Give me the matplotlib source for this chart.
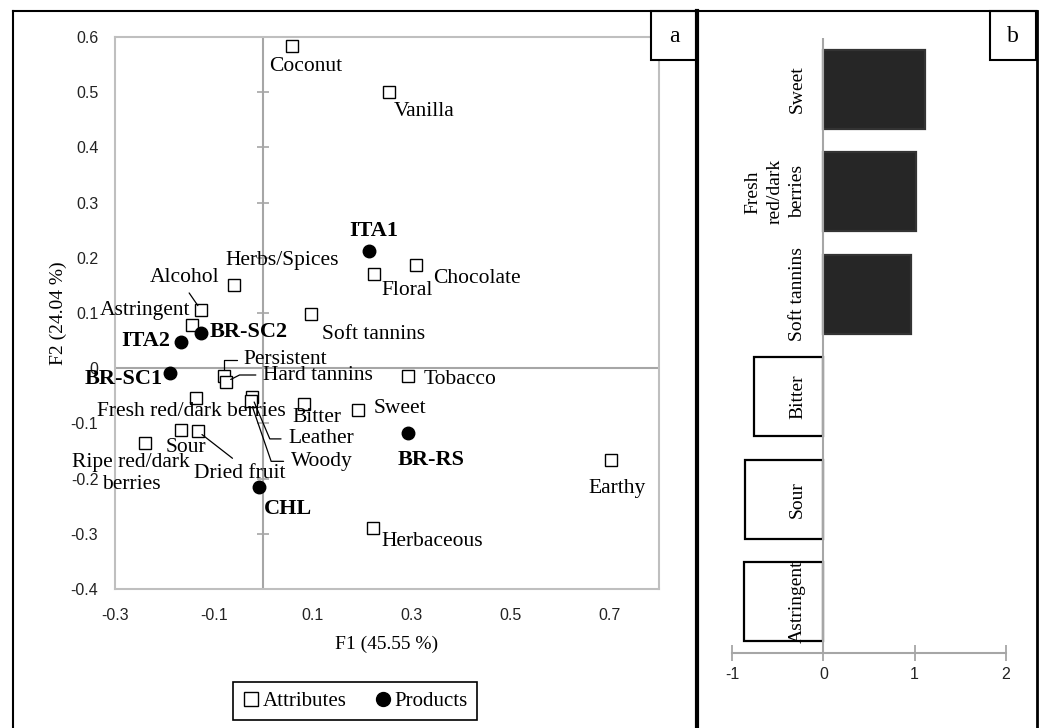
import numpy as np
import matplotlib
matplotlib.use("Agg")
import matplotlib.pyplot as plt
from matplotlib.lines import Line2D
from matplotlib.patches import Rectangle

plt.rcParams["axes.unicode_minus"] = False

# ---- data ----
attr_names = ["Coconut", "Vanilla", "Chocolate", "Floral", "Herbs/Spices", "Astringent",
              "Alcohol", "Soft tannins", "Persistent", "Hard tannins", "Tobacco",
              "Fresh red/dark berries", "Leather", "Woody", "Bitter", "Sweet", "Sour",
              "Dried fruit", "Ripe red/dark\nberries", "Herbaceous", "Earthy"]
attr_f1 = [0.058, 0.254, 0.309, 0.224, -0.059, -0.144, -0.126, 0.097, -0.080, -0.076, 0.292,
           -0.136, -0.023, -0.026, 0.083, 0.192, -0.167, -0.133, -0.239, 0.222, 0.703]
attr_f2 = [0.583, 0.501, 0.187, 0.171, 0.151, 0.078, 0.105, 0.099, -0.014, -0.025, -0.015,
           -0.054, -0.052, -0.060, -0.065, -0.076, -0.112, -0.114, -0.136, -0.289, -0.167]

prod_names = ["ITA1", "BR-SC2", "ITA2", "BR-SC1", "BR-RS", "CHL"]
prod_f1 = [0.214, -0.127, -0.167, -0.189, 0.292, -0.008]
prod_f2 = [0.212, 0.064, 0.047, -0.008, -0.118, -0.216]

xticks = [-0.3, -0.1, 0.1, 0.3, 0.5, 0.7]
xtick_labels = ["-0.3", "-0.1", "0.1", "0.3", "0.5", "0.7"]
yticks = [-0.4, -0.3, -0.2, -0.1, 0, 0.1, 0.2, 0.3, 0.4, 0.5, 0.6]
ytick_labels = ["-0.4", "-0.3", "-0.2", "-0.1", "0", "0.1", "0.2", "0.3", "0.4", "0.5", "0.6"]

b_labels = ["Sweet", "Fresh\nred/dark\nberries", "Soft tannins", "Bitter", "Sour", "Astringent"]
b_values = [1.11, 1.02, 0.955, -0.76, -0.86, -0.87]
b_ticks = [-1, 0, 1, 2]

# ---- label layout: (dx px, dy px, ha) from the marker ----
attr_offsets = {
    "Coconut": (-23, -20, "left"), "Vanilla": (5, -20, "left"), "Chocolate": (17, -14, "left"),
    "Floral": (7, -17, "left"), "Herbs/Spices": (-9, 24, "left"), "Astringent": (-2, 15, "right"),
    "Alcohol": (-51, 33, "left"), "Soft tannins": (11, -21, "left"), "Persistent": (20, 16, "left"),
    "Hard tannins": (37, 7, "left"), "Tobacco": (16, -3, "left"),
    "Fresh red/dark berries": (-5, -13, "center"), "Leather": (36, -42, "left"),
    "Woody": (40, -60, "left"), "Bitter": (-12, -13, "left"), "Sweet": (15, 2, "left"),
    "Sour": (-15, -17, "left"), "Dried fruit": (-4, -42, "left"),
    "Ripe red/dark\nberries": (-14, -30, "center"), "Herbaceous": (8, -14, "left"),
    "Earthy": (6, -28, "center"),
}
leaders = {
    "Alcohol": ((0.5, 0), "arc3"),
    "Persistent": ((0, 0.5), "angle,angleA=0,angleB=90,rad=0"),
    "Hard tannins": ((0, 0.5), "angle,angleA=0,angleB=27,rad=0"),
    "Leather": ((0, 0.5), "angle,angleA=0,angleB=113,rad=0"),
    "Woody": ((0, 0.5), "angle,angleA=0,angleB=109,rad=0"),
    "Dried fruit": ((0.5, 1), "arc3"),
}
prod_offsets = {
    "ITA1": (-20, 20, "left"), "BR-SC2": (9, 1, "left"), "ITA2": (-11, 1, "right"),
    "BR-SC1": (-7, -6, "right"), "BR-RS": (-10, -27, "left"), "CHL": (4, -22, "left"),
}

W, H = 1048, 728
SERIF = "Liberation Serif"
SANS = "Liberation Sans"


def fx(x):
    return x / W


def fy(y):
    return 1 - y / H


fig = plt.figure(figsize=(W / 100, H / 100), dpi=100)

# ---- panel a ----
ax = fig.add_axes([fx(115), fy(589), (659 - 115) / W, (589 - 37) / H])
ax.set_xlim(-0.3, 0.8)
ax.set_ylim(-0.4, 0.6)
for s in ax.spines.values():
    s.set_color("#bfbfbf")
    s.set_linewidth(1.5)
ax.axhline(0, color="#a6a6a6", lw=1.5, zorder=1)
ax.axvline(0, color="#a6a6a6", lw=1.5, zorder=1)
ax.plot([0] * len(yticks), yticks, ls="none", marker="_", ms=8, mew=1.2, color="#a6a6a6", zorder=1)

ax.set_xticks(xticks)
ax.set_xticklabels(xtick_labels)
ax.set_yticks(yticks)
ax.set_yticklabels(ytick_labels)
ax.tick_params(length=0, labelsize=11.5, colors="#222222")
ax.tick_params(axis="x", pad=14)
ax.tick_params(axis="y", pad=12)
for t in ax.get_xticklabels() + ax.get_yticklabels():
    t.set_family(SANS)

ax.plot(attr_f1, attr_f2, ls="none", marker="s", ms=8, mfc="white", mec="black", mew=1.0, zorder=3)
ax.plot(prod_f1, prod_f2, ls="none", marker="o", ms=9, mfc="black", mec="black", zorder=3)

for name, x, y in zip(attr_names, attr_f1, attr_f2):
    dx, dy, ha = attr_offsets[name]
    kw = {}
    if name in leaders:
        rp, cs = leaders[name]
        kw["arrowprops"] = dict(arrowstyle="-", color="black", lw=0.9, relpos=rp,
                                connectionstyle=cs, shrinkA=3, shrinkB=4)
    ax.annotate(name, (x, y), xytext=(dx, dy), textcoords="offset pixels", ha=ha, va="center",
                multialignment="center", fontsize=15.5, family=SERIF, zorder=4, **kw)

for name, x, y in zip(prod_names, prod_f1, prod_f2):
    dx, dy, ha = prod_offsets[name]
    ax.annotate(name, (x, y), xytext=(dx, dy), textcoords="offset pixels", ha=ha, va="center",
                fontsize=16, fontweight="bold", family=SERIF, zorder=4)

fig.text(fx(387), fy(644), "F1 (45.55 %)", ha="center", va="center", fontsize=14, family=SERIF)
fig.text(fx(58), fy(313), "F2 (24.04 %)", ha="center", va="center", rotation=90,
         fontsize=14, family=SERIF)

handles = [Line2D([], [], ls="none", marker="s", ms=10, mfc="white", mec="black", mew=1.0),
           Line2D([], [], ls="none", marker="o", ms=10, mfc="black", mec="black")]
leg = fig.legend(handles, ["Attributes", "Products"], loc="center", bbox_to_anchor=(fx(355), fy(701)),
                 ncol=2, fancybox=False, edgecolor="black", framealpha=1,
                 prop={"family": SERIF, "size": 15}, handlelength=0.9, handletextpad=0.1,
                 columnspacing=1.3, borderpad=0.45)
leg.get_frame().set_linewidth(1.2)

# ---- panel b ----
bx = fig.add_axes([fx(732), fy(653), (1006 - 732) / W, (653 - 38) / H])
ypos = np.arange(len(b_values))
faces = ["#262626" if v > 0 else "white" for v in b_values]
edges = ["#333333" if v > 0 else "black" for v in b_values]
bx.barh(ypos, b_values, height=0.77, color=faces, edgecolor=edges, linewidth=1.6, zorder=2)
bx.set_xlim(-1, 2)
bx.set_ylim(len(b_values) - 0.5, -0.5)
bx.axvline(0, color="#a6a6a6", lw=1.5, zorder=3)
for side in ["top", "right", "left"]:
    bx.spines[side].set_visible(False)
bx.spines["bottom"].set_color("#a6a6a6")
bx.spines["bottom"].set_linewidth(1.5)
bx.set_yticks([])
bx.set_xticks(b_ticks)
bx.tick_params(axis="x", direction="inout", length=12, width=1.3, color="#a6a6a6",
               labelsize=11.5, pad=4, labelcolor="#222222")
for t in bx.get_xticklabels():
    t.set_family(SANS)
for lab, y in zip(b_labels, ypos):
    bx.text(-0.19, y, lab, rotation=90, ha="right", va="center", multialignment="center",
            linespacing=1.4, fontsize=14, family=SERIF, zorder=4)

# ---- panel frames and letters ----
fig.add_artist(Line2D([fx(13), fx(13)], [fy(11), fy(728)], color="black", lw=1.5))
fig.add_artist(Line2D([fx(13), fx(1037)], [fy(11), fy(11)], color="black", lw=1.5))
fig.add_artist(Line2D([fx(697), fx(697)], [fy(11), fy(728)], color="black", lw=3))
fig.add_artist(Line2D([fx(1037), fx(1037)], [fy(11), fy(728)], color="black", lw=2))
for (x0, x1, letter) in [(651, 697, "a"), (990, 1036, "b")]:
    fig.add_artist(Rectangle((fx(x0), fy(60)), (x1 - x0) / W, 49 / H, transform=fig.transFigure,
                             facecolor="white", edgecolor="black", lw=1.5))
    fig.text(fx((x0 + x1) / 2), fy(37), letter, ha="center", va="center", fontsize=17, family=SERIF)

fig.savefig("out.png", dpi=100)
